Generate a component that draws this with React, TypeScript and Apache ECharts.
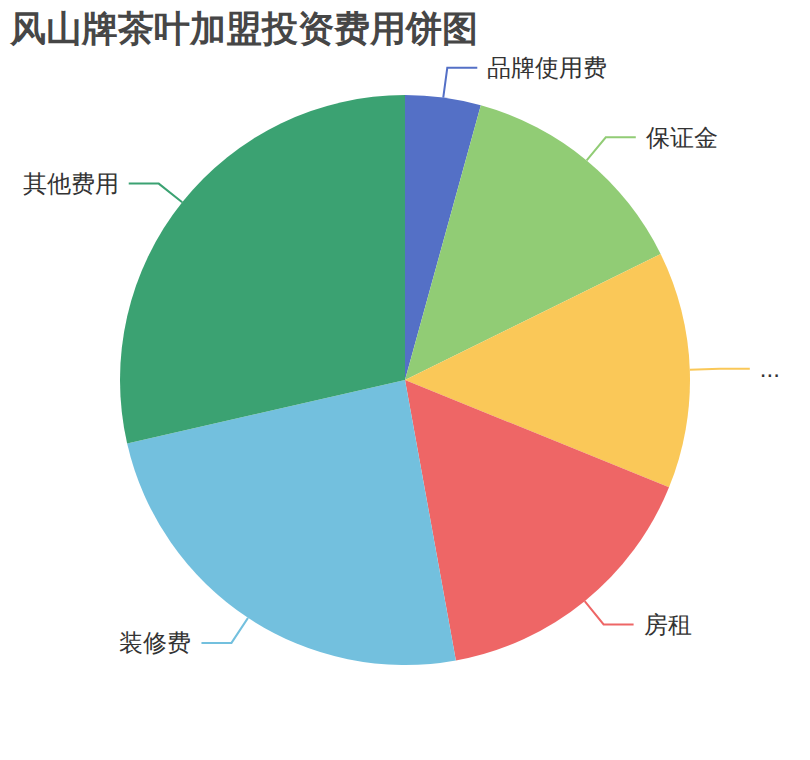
import React, { useEffect, useRef } from "react";
import * as echarts from "echarts";

const titleText = "风山牌茶叶加盟投资费用饼图";
const categories = ["品牌使用费", "保证金", "设备及首批进货费用", "房租", "装修费", "其他费用"];
const values = [1.5, 4.7, 4.7, 5.6, 8.5, 10];
const palette = ["#5470c6", "#91cc75", "#fac858", "#ee6666", "#73c0de", "#3ba272"];

export default function App() {
  const ref = useRef<HTMLDivElement>(null);
  useEffect(() => {
    document.body.style.margin = "0";
    const chart = echarts.init(ref.current!, null, { renderer: "svg" });
    chart.setOption({
      animation: false,
      color: palette,
      title: {
        text: titleText,
        left: 0,
        top: 0,
        padding: 10,
        textStyle: { fontSize: 36, fontWeight: "bold", color: "#464646" },
      },
      series: [
        {
          type: "pie",
          radius: "75%",
          center: ["50%", "50%"],
          data: categories.map((name, i) => ({ name, value: values[i] })),
          itemStyle: { borderWidth: 0 },
          label: {
            fontSize: 24,
            color: "#333",
            distanceToLabelLine: 10,
            bleedMargin: 20,
            overflow: "truncate",
          },
          labelLine: { length: 30, length2: 30, lineStyle: { width: 2 } },
        },
      ],
    });
    return () => chart.dispose();
  }, []);
  return <div ref={ref} style={{ width: 810, height: 760 }} />;
}
